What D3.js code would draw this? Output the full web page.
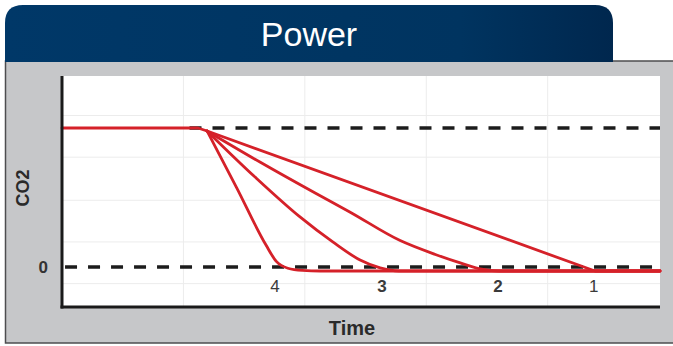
<!DOCTYPE html>
<html>
<head>
<meta charset="utf-8">
<script src="https://cdn.jsdelivr.net/npm/d3@7/dist/d3.min.js"></script>
<style>
  html, body { margin: 0; padding: 0; background: #ffffff; }
  svg { display: block; }
</style>
</head>
<body>
<script>
// ---- Data ----
const title = "Power";
const xLabel = "Time";
const yLabel = "CO2";
const timeDomain = [0, 98.5];
const co2Domain = [-28.8, 137.4];
const gridX = [20, 40, 60, 80];
const gridY = [-12, 18, 48, 79, 109];
const dashedLevels = [
  { start: 21, value: 100 },
  { start: 0.5, value: 0 }
];
const yTickValues = [0];
const yTickLabels = ["0"];

// shared level before the drop: [time, co2]
const holdPart = [[0,100],[22.4,100],[23.9,97.8]];
// descent of each power curve, from the kink to the low baseline: [time, co2]
const curve1 = [[23.9,97.8],[87.8,-2.9],[98.5,-2.9]];
const curve2 = [[23.9,97.8],[32.6,75.5],[41.7,53.2],[47.4,39.6],[55.7,19.0],[61.5,9.0],[65.6,2.9],[69.4,-1.8],[72.0,-2.9],[98.5,-2.9]];
const curve3 = [[23.9,97.8],[31.8,64.7],[39.2,36.0],[44.6,18.0],[49.1,5.0],[52.4,-0.7],[55.5,-2.9],[98.5,-2.9]];
const curve4 = [[23.9,97.8],[28.8,56.8],[33.6,15.8],[35.3,4.0],[37.2,-0.9],[39.6,-2.5],[42.5,-2.9],[98.5,-2.9]];
const curves = [curve1, curve2, curve3, curve4];
const curveSmooth = [false, true, true, true];
const curveLabels = ["1", "2", "3", "4"];
const curveLabelTimes = [87.6, 71.8, 52.7, 35.1];
const curveLabelBold = [false, true, true, false];

// ---- Drawing ----
(function () {
const W = 673, H = 346;
const svg = d3.select("body").append("svg").attr("width", W).attr("height", H);

const defs = svg.append("defs");
const grad = defs.append("linearGradient").attr("id", "tabGrad").attr("x1", "0").attr("x2", "1").attr("y1", "0").attr("y2", "0");
grad.append("stop").attr("offset", "0%").attr("stop-color", "#003868");
grad.append("stop").attr("offset", "75%").attr("stop-color", "#003460");
grad.append("stop").attr("offset", "100%").attr("stop-color", "#00274e");

// gray panel
svg.append("rect").attr("x", 5.5).attr("y", 61).attr("width", 700).attr("height", 282)
  .attr("fill", "#c6c7c9").attr("stroke", "#4d4d4f").attr("stroke-width", 1.5);

// tab with rounded top corners
const tx = 5, ty = 5, tw = 608, th = 57, r = 18;
svg.append("path")
  .attr("d", `M${tx},${ty+th} L${tx},${ty+r} Q${tx},${ty} ${tx+r},${ty} L${tx+tw-r},${ty} Q${tx+tw},${ty} ${tx+tw},${ty+r} L${tx+tw},${ty+th} Z`)
  .attr("fill", "url(#tabGrad)");
svg.append("text").attr("x", 309).attr("y", 46).attr("text-anchor", "middle")
  .attr("font-family", "Liberation Sans, Arial, sans-serif").attr("font-size", 34)
  .attr("fill", "#ffffff").text(title);

// plot area
const pL = 62, pR = 660, pT = 76, pB = 307;
const x = d3.scaleLinear().domain(timeDomain).range([pL, pR]);
const y = d3.scaleLinear().domain(co2Domain).range([pB, pT]);

svg.append("rect").attr("x", pL).attr("y", pT).attr("width", pR - pL).attr("height", pB - pT).attr("fill", "#ffffff");

const g = svg.append("g");
g.selectAll("line.gx").data(gridX).enter().append("line")
  .attr("x1", d => x(d)).attr("x2", d => x(d)).attr("y1", pT).attr("y2", pB)
  .attr("stroke", "#ececec").attr("stroke-width", 1);
g.selectAll("line.gy").data(gridY).enter().append("line")
  .attr("x1", pL).attr("x2", pR).attr("y1", d => y(d)).attr("y2", d => y(d))
  .attr("stroke", "#ececec").attr("stroke-width", 1);

// dashed reference lines
g.selectAll("line.dash").data(dashedLevels).enter().append("line")
  .attr("x1", d => x(d.start)).attr("x2", pR).attr("y1", d => y(d.value)).attr("y2", d => y(d.value))
  .attr("stroke", "#1c1c1c").attr("stroke-width", 3.5).attr("stroke-dasharray", "12,11");

// curves
const red = "#d52129";
const linLine = d3.line().x(d => x(d[0])).y(d => y(d[1])).curve(d3.curveLinear);
const smoothLine = d3.line().x(d => x(d[0])).y(d => y(d[1])).curve(d3.curveMonotoneX);
g.append("path").attr("d", linLine(holdPart)).attr("fill", "none").attr("stroke", red)
  .attr("stroke-width", 2.8).attr("stroke-linejoin", "round").attr("stroke-linecap", "round");
g.selectAll("path.curve").data(curves).enter().append("path")
  .attr("d", (d, i) => curveSmooth[i] ? smoothLine(d) : linLine(d))
  .attr("fill", "none").attr("stroke", red).attr("stroke-width", 2.8)
  .attr("stroke-linejoin", "round").attr("stroke-linecap", "round");

// curve labels
g.selectAll("text.cl").data(curveLabels).enter().append("text")
  .attr("x", (d, i) => x(curveLabelTimes[i])).attr("y", 292)
  .attr("text-anchor", "middle").attr("font-family", "Liberation Sans, Arial, sans-serif")
  .attr("font-size", 17).attr("font-weight", (d, i) => curveLabelBold[i] ? "bold" : "normal")
  .attr("fill", "#3a3a3a").text(d => d);

// axes
const yAxis = d3.axisLeft(y).tickValues(yTickValues).tickFormat((d, i) => yTickLabels[i]).tickSize(0).tickPadding(14);
const ya = svg.append("g").attr("transform", `translate(${pL},0)`).call(yAxis);
ya.select(".domain").remove();
ya.selectAll("text").attr("font-family", "Liberation Sans, Arial, sans-serif").attr("font-size", 17)
  .attr("font-weight", "bold").attr("fill", "#333");

svg.append("line").attr("x1", pL).attr("x2", pL).attr("y1", pT).attr("y2", pB + 1.5)
  .attr("stroke", "#1a1a1a").attr("stroke-width", 3);
svg.append("line").attr("x1", pL - 1.5).attr("x2", pR).attr("y1", pB).attr("y2", pB)
  .attr("stroke", "#1a1a1a").attr("stroke-width", 3);

// axis titles
svg.append("text").attr("x", 352).attr("y", 335).attr("text-anchor", "middle")
  .attr("font-family", "Liberation Sans, Arial, sans-serif").attr("font-size", 20).attr("font-weight", "bold")
  .attr("fill", "#2a2a2a").text(xLabel);
svg.append("text").attr("transform", "translate(29,188) rotate(-90)").attr("text-anchor", "middle")
  .attr("font-family", "Liberation Sans, Arial, sans-serif").attr("font-size", 18).attr("font-weight", "bold")
  .attr("fill", "#2a2a2a").text(yLabel);
})();
</script>
</body>
</html>
